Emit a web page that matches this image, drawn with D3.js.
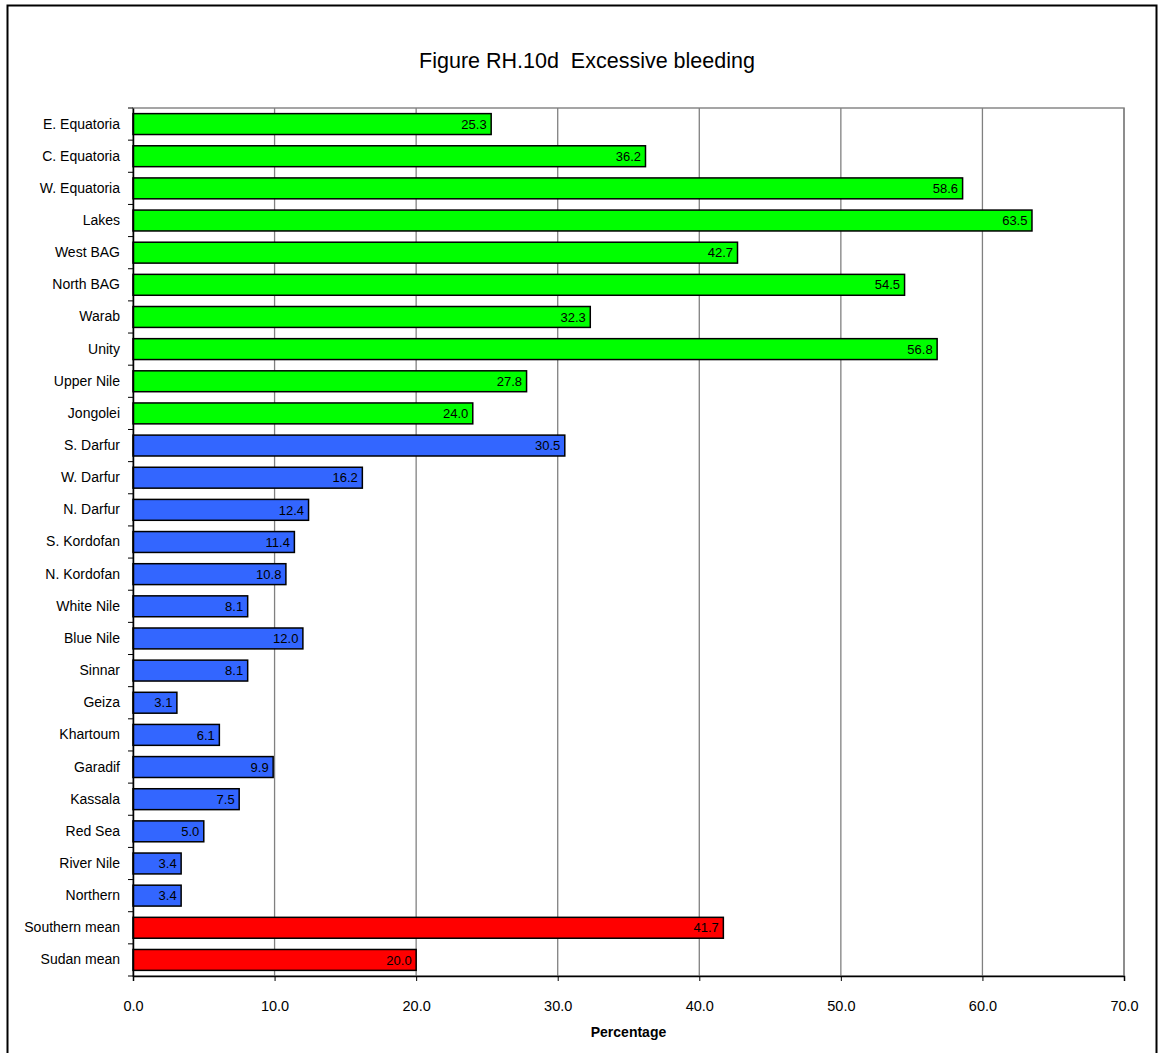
<!DOCTYPE html>
<html><head><meta charset="utf-8">
<script src="https://cdn.jsdelivr.net/npm/d3@7"></script>
<style>body{margin:0;background:#fff;font-family:"Liberation Sans",Arial,sans-serif;}</style>
</head><body>
<svg id="chart" width="1158" height="1053"></svg>
<script>
const categories = ["E. Equatoria","C. Equatoria","W. Equatoria","Lakes","West BAG","North BAG","Warab","Unity","Upper Nile","Jongolei","S. Darfur","W. Darfur","N. Darfur","S. Kordofan","N. Kordofan","White Nile","Blue Nile","Sinnar","Geiza","Khartoum","Garadif","Kassala","Red Sea","River Nile","Northern","Southern mean","Sudan mean"];
const values = [25.3,36.2,58.6,63.5,42.7,54.5,32.3,56.8,27.8,24.0,30.5,16.2,12.4,11.4,10.8,8.1,12.0,8.1,3.1,6.1,9.9,7.5,5.0,3.4,3.4,41.7,20.0];
const groups = ["south","south","south","south","south","south","south","south","south","south","north","north","north","north","north","north","north","north","north","north","north","north","north","north","north","mean","mean"];
const groupColors = {south:"#00ff00", north:"#3366ff", mean:"#ff0000"};
const xTicks = [0,10,20,30,40,50,60,70];
const title = "Figure RH.10d\u00a0\u00a0Excessive bleeding";
const xTitle = "Percentage";

const svg = d3.select("#chart");
const L = 133, R = 1124, T = 108, B = 976;
svg.append("rect").attr("x",7.5).attr("y",5.5).attr("width",1149).attr("height",1060)
  .attr("fill","none").attr("stroke","#000").attr("stroke-width",2);

const x = d3.scaleLinear().domain([0,70]).range([L,R]);
const y = d3.scaleBand().domain(categories).range([T,B]).paddingInner(0.35).paddingOuter(0.175);

// plot frame
svg.append("rect").attr("x",L).attr("y",T).attr("width",R-L).attr("height",B-T)
  .attr("fill","none").attr("stroke","#888").attr("stroke-width",1.5);
// gridlines
svg.append("g").selectAll("line").data(xTicks.slice(1)).join("line")
  .attr("x1",d=>x(d)).attr("x2",d=>x(d)).attr("y1",T).attr("y2",B)
  .attr("stroke","#808080").attr("stroke-width",1.3);

// bars
svg.append("g").selectAll("rect").data(values).join("rect")
  .attr("x",x(0)).attr("y",(d,i)=>y(categories[i]))
  .attr("width",d=>x(d)-x(0)).attr("height",y.bandwidth())
  .attr("fill",(d,i)=>groupColors[groups[i]]).attr("stroke","#000").attr("stroke-width",1.5);

// value labels
svg.append("g").selectAll("text").data(values).join("text")
  .attr("x",d=>x(d)-4.5).attr("y",(d,i)=>y(categories[i])+y.bandwidth()/2)
  .attr("dy","0.36em").attr("text-anchor","end").attr("font-size",13).attr("fill","#000")
  .text(d=>d.toFixed(1));

// y axis
const yAxis = d3.axisLeft(y).tickSize(0).tickPadding(13);
const gy = svg.append("g").attr("transform",`translate(${L},0)`).call(yAxis);
gy.select(".domain").attr("stroke","#000").attr("stroke-width",1.5);
gy.selectAll("text").attr("font-size",14).attr("font-family","Liberation Sans, Arial, sans-serif").attr("fill","#000");
// y tick marks at band boundaries
const bounds = d3.range(categories.length+1).map(i => T + i*(B-T)/categories.length);
svg.append("g").selectAll("line").data(bounds).join("line")
  .attr("x1",L-5).attr("x2",L).attr("y1",d=>d).attr("y2",d=>d).attr("stroke","#000");

// x axis
const xAxis = d3.axisBottom(x).tickValues(xTicks).tickFormat(d=>d.toFixed(1)).tickSize(5).tickPadding(20);
const gx = svg.append("g").attr("transform",`translate(0,${B})`).call(xAxis);
gx.select(".domain").attr("stroke","#000").attr("stroke-width",1.5);
gx.selectAll("line").attr("stroke","#000");
gx.selectAll("text").attr("font-size",14.5).attr("font-family","Liberation Sans, Arial, sans-serif").attr("fill","#000");

svg.append("text").attr("x",(L+R)/2).attr("y",1037).attr("text-anchor","middle")
  .attr("font-size",14).attr("font-weight","bold").text(xTitle);
svg.append("text").attr("x",587).attr("y",68).attr("text-anchor","middle")
  .attr("font-size",21.5).text(title);
</script>
</body></html>
